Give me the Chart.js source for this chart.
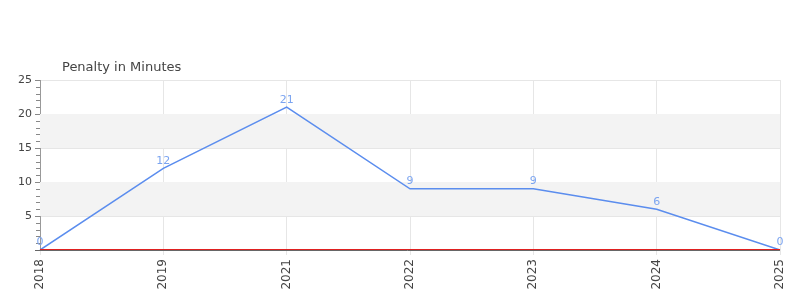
<!DOCTYPE html>
<html>
<head>
<meta charset="utf-8">
<script src="https://cdn.jsdelivr.net/npm/chart.js@4"></script>
<style>
  html, body { margin: 0; padding: 0; background: #fff; }
  #wrap { width: 800px; height: 300px; }
</style>
</head>
<body>
<div id="wrap"><canvas id="penaltyChart" width="800" height="300"></canvas></div>
<script>
const YEARS = ['2018', '2019', '2021', '2022', '2023', '2024', '2025'];
const PENALTY_MINUTES = [0, 12, 21, 9, 9, 6, 0];
const Y_TICKS = [0, 5, 10, 15, 20, 25];
const TITLE = 'Penalty in Minutes';

const FONT = "'DejaVu Sans', sans-serif";

// grey bands between every other pair of major ticks
const bands = {
  id: 'bands',
  beforeDatasetsDraw(chart) {
    const { ctx, chartArea: a, scales: { y } } = chart;
    ctx.save();
    ctx.fillStyle = '#f3f3f3';
    for (let i = 1; i < Y_TICKS.length - 1; i += 2) {
      const top = y.getPixelForValue(Y_TICKS[i + 1]);
      const bot = y.getPixelForValue(Y_TICKS[i]);
      ctx.fillRect(a.left, top, a.right - a.left, bot - top);
    }
    ctx.restore();
  },
  beforeDraw(chart) {
    // title sits just above the plot, a bit in from the left
    const { ctx, chartArea: a } = chart;
    ctx.save();
    ctx.font = '13px ' + FONT;
    ctx.fillStyle = '#444';
    ctx.textBaseline = 'middle';
    ctx.fillText(TITLE, a.left + 22, a.top - 12);
    ctx.restore();
  }
};

// minor ticks + zero line + value labels
const extras = {
  id: 'extras',
  afterDraw(chart) {
    const { ctx, chartArea: a, scales: { y } } = chart;
    ctx.save();
    ctx.strokeStyle = '#888';
    ctx.lineWidth = 1;
    for (let v = Y_TICKS[0]; v <= Y_TICKS[Y_TICKS.length - 1]; v++) {
      if (v % 5 === 0) continue;
      const py = Math.round(y.getPixelForValue(v)) + 0.5;
      ctx.beginPath();
      ctx.moveTo(a.left - 4, py);
      ctx.lineTo(a.left, py);
      ctx.stroke();
    }
    const y0 = Math.round(y.getPixelForValue(0));
    ctx.strokeStyle = '#666';
    ctx.beginPath();
    ctx.moveTo(a.left - 5, y0 + 0.5);
    ctx.lineTo(a.right, y0 + 0.5);
    ctx.stroke();
    ctx.strokeStyle = '#e02020';
    ctx.beginPath();
    ctx.moveTo(a.left, y0 - 0.5);
    ctx.lineTo(a.right, y0 - 0.5);
    ctx.stroke();

    const meta = chart.getDatasetMeta(0);
    ctx.font = '11px ' + FONT;
    ctx.fillStyle = '#7ba4f0';
    ctx.textAlign = 'center';
    ctx.textBaseline = 'bottom';
    meta.data.forEach((pt, i) => {
      ctx.fillText(String(PENALTY_MINUTES[i]), pt.x, pt.y - 2);
    });
    ctx.restore();
  }
};

const ctx = document.getElementById('penaltyChart').getContext('2d');
new Chart(ctx, {
  type: 'line',
  data: {
    labels: YEARS,
    datasets: [{
      label: TITLE,
      data: PENALTY_MINUTES,
      borderColor: '#5b8dee',
      borderWidth: 1.5,
      pointRadius: 0,
      tension: 0,
      fill: false
    }]
  },
  options: {
    responsive: false,
    animation: false,
    layout: { padding: { top: 80, right: 20, left: 0, bottom: 0 } },
    plugins: {
      legend: { display: false },
      title: { display: false },
      tooltip: { enabled: false }
    },
    scales: {
      x: {
        offset: false,
        grid: { color: '#e6e6e6', drawTicks: true, tickLength: 5, tickColor: '#e6e6e6' },
        border: { display: false },
        ticks: {
          font: { family: FONT, size: 12 }, color: '#444',
          minRotation: 90, maxRotation: 90, autoSkip: false, padding: 4
        },
        afterFit(s) { s.height = 50; }
      },
      y: {
        min: 0, max: 25,
        grid: { color: '#e6e6e6', tickLength: 5, tickColor: '#888' },
        border: { color: '#999' },
        ticks: {
          stepSize: 5,
          font: { family: FONT, size: 11 }, color: '#444', padding: 3,
          callback: v => (v === 0 ? '' : v)
        },
        afterFit(s) { s.width = 40; }
      }
    }
  },
  plugins: [bands, extras]
});
</script>
</body>
</html>
